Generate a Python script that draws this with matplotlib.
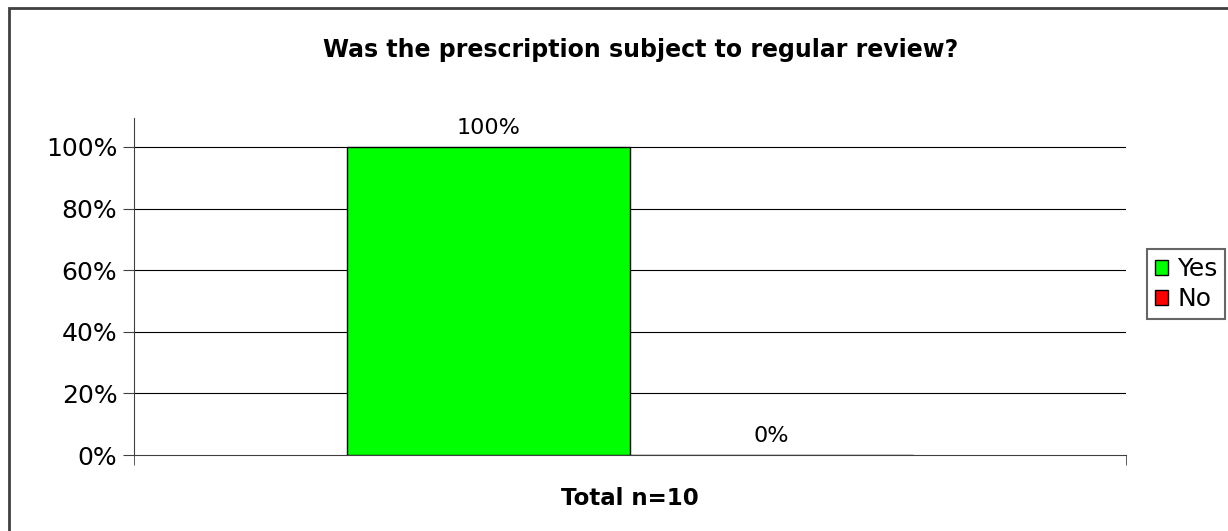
import numpy as np
import matplotlib.pyplot as plt
from matplotlib.patches import Rectangle
from matplotlib.ticker import FuncFormatter

plt.rcParams['font.family'] = ['DejaVu Sans']

categories = ['Total n=10']
series = ['Yes', 'No']
values = [100, 0]
colors = ['#00ff00', '#ff0000']
yticks = [0, 20, 40, 60, 80, 100]

fig = plt.figure(figsize=(12.28, 5.31), dpi=100)
ax = fig.add_axes([0.1091, 0.1431, 0.8078, 0.6347])

# outer chart frame (only left and top edges fall inside the image)
fig.patches.append(Rectangle((9 / 1228, -0.1), 1.2, 1 - 8 / 531 + 0.1,
                             transform=fig.transFigure, fill=False,
                             edgecolor='#404040', linewidth=2))

width = 0.285
x = np.arange(len(categories))
offsets = [-0.1426, 0.1426]
for i, name in enumerate(series):
    bars = ax.bar(x + offsets[i], [values[i]], width, color=colors[i],
                  edgecolor='black', linewidth=1, label=name, zorder=3)
    for b in bars:
        ax.text(b.get_x() + b.get_width() / 2, b.get_height() + 3,
                '%d%%' % b.get_height(), ha='center', va='bottom', fontsize=16)

ax.set_xlim(-0.5, 0.5)
ax.set_ylim(0, 109.4)
ax.set_yticks(yticks)
ax.yaxis.set_major_formatter(FuncFormatter(lambda v, p: '%d%%' % v))
for v in yticks[1:]:
    ax.axhline(v, color='black', linewidth=0.8, zorder=1)

ax.set_xticks(x)
ax.set_xticklabels(categories, fontsize=16.5, fontweight='bold')
ax.set_xticks([-0.5, 0.5], minor=True)
ax.tick_params(axis='x', which='major', length=0, pad=23)
ax.tick_params(axis='x', which='minor', length=7, direction='out', color='#404040')
ax.tick_params(axis='y', length=8, direction='out', labelsize=18, color='#404040', pad=4)

for s in ['top', 'right']:
    ax.spines[s].set_visible(False)
ax.spines['left'].set_color('#404040')
ax.spines['bottom'].set_color('#404040')

fig.text(0.522, 1 - 50 / 531, 'Was the prescription subject to regular review?',
         ha='center', va='center', fontsize=17, fontweight='bold')

leg = fig.legend(loc='center left', bbox_to_anchor=(1147 / 1228, 1 - 284 / 531),
                 fontsize=18, frameon=True, fancybox=False, edgecolor='#404040',
                 handlelength=0.55, handleheight=0.55, handletextpad=0.35,
                 borderpad=0.3, labelspacing=0.25, borderaxespad=0)
leg.get_frame().set_linewidth(1.5)

fig.savefig('out.png', dpi=100)
